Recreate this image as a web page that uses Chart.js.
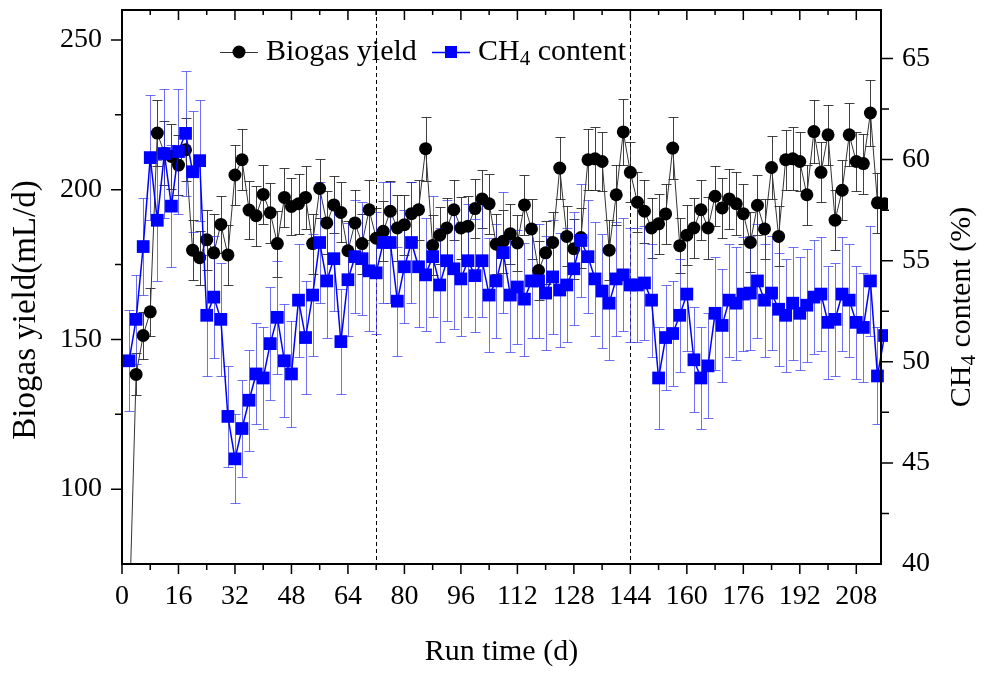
<!DOCTYPE html>
<html>
<head>
<meta charset="utf-8">
<script src="https://cdn.jsdelivr.net/npm/chart.js@4.4.1/dist/chart.umd.min.js"></script>
<style>
  html, body { margin: 0; padding: 0; background: #fff; }
  canvas { display: block; }
</style>
</head>
<body>
<canvas id="myChart" width="988" height="674"></canvas>
<script>
// run days (sampling every 2 d)
const days = [2, 4, 6, 8, 10, 12, 14, 16, 18, 20, 22, 24, 26, 28, 30, 32, 34, 36, 38, 40,
  42, 44, 46, 48, 50, 52, 54, 56, 58, 60, 62, 64, 66, 68, 70, 72, 74, 76, 78, 80,
  82, 84, 86, 88, 90, 92, 94, 96, 98, 100, 102, 104, 106, 108, 110, 112, 114, 116, 118, 120,
  122, 124, 126, 128, 130, 132, 134, 136, 138, 140, 142, 144, 146, 148, 150, 152, 154, 156, 158, 160,
  162, 164, 166, 168, 170, 172, 174, 176, 178, 180, 182, 184, 186, 188, 190, 192, 194, 196, 198, 200,
  202, 204, 206, 208, 210, 212, 214, 216];

// biogas yield, mL/d
const biogas = [55, 138.3, 151.3, 159.2, 218.9, 212.2, 211.1, 208.2, 213.3, 179.8,
  177.3, 183.3, 178.9, 188.4, 178.2, 204.9, 210, 193.2, 191.3, 198.4,
  192.3, 182, 197.4, 194.4, 195.3, 197.4, 182, 200.4, 188.9, 194.9,
  192.4, 179.6, 188.9, 182, 193.3, 183.8, 186.1, 192.8, 187.2, 188.3,
  192, 193.3, 213.7, 181.4, 184.8, 187.2, 193.3, 187.2, 187.8, 193.7,
  196.9, 195.3, 181.8, 182.8, 185.3, 182.2, 194.9, 186.9, 173, 178.9,
  182.4, 207.2, 184.4, 180.3, 184, 210, 210.3, 209.4, 179.8, 198.3,
  219.3, 205.8, 195.8, 192.8, 187.2, 188.6, 191.9, 213.9, 181.3, 184.8,
  187.2, 193.3, 187.2, 197.8, 193.9, 196.9, 195.3, 192, 182.4, 194.8,
  186.9, 207.4, 184.4, 210, 210.3, 209.4, 198.3, 219.4, 205.8, 218.3,
  189.8, 199.8, 218.3, 209.4, 208.7, 225.6, 195.6, 195.3];
const biogasErr = [8, 7, 7.7, 8, 11, 10.6, 10.8, 10, 10.5, 10,
  9, 10, 13, 9.5, 10, 10, 10.2, 9.6, 10, 9.7,
  10, 11, 10, 9.5, 10, 10.5, 10, 10, 10.5, 9.5,
  10, 10, 11, 10, 10, 10, 10, 10, 11, 10,
  10.5, 10, 10.7, 10, 9.5, 10, 10, 10.5, 10, 9.7,
  9.8, 10, 10, 10.5, 10, 9.5, 10, 10, 10, 10.5,
  10, 10.3, 10, 10, 10, 10.2, 10.5, 10, 10, 10,
  11, 10, 10, 10.5, 10, 10, 10, 10.5, 9.1, 10,
  10, 10, 10.5, 10, 10, 10, 10.5, 10, 10, 10,
  10, 10.5, 10, 10, 10.5, 10, 10, 10.5, 10, 10,
  10, 10, 10.5, 10, 10, 11, 10, 10];

// CH4 content, %
const ch4 = [50.05, 52.1, 55.7, 60.1, 57.0, 60.3, 57.7, 60.4, 61.3, 59.4,
  59.95, 52.3, 53.2, 52.1, 47.3, 45.2, 46.7, 48.1, 49.4, 49.2,
  50.9, 52.2, 50.05, 49.4, 53.05, 51.2, 53.3, 55.9, 54.0, 55.1,
  51.0, 54.06, 55.2, 55.1, 54.5, 54.4, 55.9, 55.9, 53.0, 54.7,
  55.9, 54.7, 54.3, 55.2, 53.8, 55.0, 54.6, 54.1, 55.0, 54.26,
  55.0, 53.3, 54.0, 55.4, 53.3, 53.7, 53.1, 54.0, 54.0, 53.4,
  54.2, 53.55, 53.8, 54.6, 56.0, 55.2, 54.1, 53.5, 52.9, 54.1,
  54.3, 53.8, 53.8, 53.9, 53.05, 49.2, 51.2, 51.4, 52.3, 53.35,
  50.1, 49.2, 49.8, 52.4, 51.8, 53.05, 52.9, 53.35, 53.4, 54.0,
  53.05, 53.4, 52.6, 52.3, 52.9, 52.4, 52.8, 53.2, 53.35, 51.95,
  52.1, 53.35, 53.05, 51.95, 51.7, 54.0, 49.3, 51.3];
const ch4Err = [2.5, 2.2, 2.4, 3.1, 3.0, 3.2, 3.0, 3.1, 3.1, 3.0,
  3.0, 3.0, 3.0, 2.8, 2.5, 2.2, 2.4, 2.5, 2.5, 2.5,
  2.8, 2.8, 2.8, 2.6, 2.8, 2.8, 3.0, 3.0, 2.8, 2.6,
  2.6, 2.8, 2.8, 2.8, 3.0, 3.0, 3.0, 3.0, 2.7, 2.8,
  3.0, 3.0, 2.8, 3.0, 2.8, 3.0, 3.0, 2.8, 2.8, 2.8,
  2.8, 2.8, 2.8, 3.0, 2.8, 2.8, 2.8, 2.8, 2.8, 2.8,
  2.8, 2.8, 2.8, 2.8, 2.8, 2.8, 2.8, 2.8, 2.8, 2.8,
  2.8, 2.8, 2.8, 2.8, 2.8, 2.5, 2.6, 2.6, 2.8, 2.8,
  2.6, 2.5, 2.6, 2.8, 2.8, 2.8, 2.8, 2.8, 2.8, 2.8,
  2.8, 2.8, 2.8, 2.8, 2.8, 2.8, 2.8, 2.8, 2.8, 2.8,
  2.8, 2.8, 2.8, 2.8, 2.7, 2.7, 2.4, 2.6];

const xTicks = [0, 16, 32, 48, 64, 80, 96, 112, 128, 144, 160, 176, 192, 208];
const leftTicks = [100, 150, 200, 250];
const rightTicks = [40, 45, 50, 55, 60, 65];
const phaseLines = [72, 144];

const FONT = '"Liberation Serif", "Times New Roman", serif';
const ctx = document.getElementById("myChart").getContext("2d");

const toPoints = (ys) => days.map((d, i) => ({ x: d, y: ys[i] }));

// error bars + phase separators, drawn under the markers
const underlay = {
  id: "underlay",
  beforeDatasetsDraw(chart) {
    const c = chart.ctx;
    const a = chart.chartArea;
    const xs = chart.scales.x;
    c.save();
    c.beginPath();
    c.rect(a.left, a.top, a.right - a.left, a.bottom - a.top);
    c.clip();

    c.strokeStyle = "#000";
    c.lineWidth = 1;
    c.setLineDash([4, 3]);
    phaseLines.forEach((d) => {
      const px = Math.round(xs.getPixelForValue(d)) + 0.5;
      c.beginPath();
      c.moveTo(px, a.top);
      c.lineTo(px, a.bottom);
      c.stroke();
    });
    c.setLineDash([]);

    chart.data.datasets.slice().reverse().forEach((ds) => {
      const ys = chart.scales[ds.yAxisID];
      c.strokeStyle = ds.errorColor;
      c.lineWidth = 1;
      ds.data.forEach((p, i) => {
        const px = Math.round(xs.getPixelForValue(p.x)) + 0.5;
        const top = Math.round(ys.getPixelForValue(p.y + ds.errors[i])) + 0.5;
        const bot = Math.round(ys.getPixelForValue(p.y - ds.errors[i])) + 0.5;
        c.beginPath();
        c.moveTo(px, top);
        c.lineTo(px, bot);
        c.moveTo(px - 5, top);
        c.lineTo(px + 5, top);
        c.moveTo(px - 5, bot);
        c.lineTo(px + 5, bot);
        c.stroke();
      });
    });
    c.restore();
  },
};

// frame, tick marks, titles, legend
const overlay = {
  id: "overlay",
  afterDraw(chart) {
    const c = chart.ctx;
    const a = chart.chartArea;
    const xs = chart.scales.x;
    const yl = chart.scales.y;
    const yr = chart.scales.y2;
    c.save();
    c.strokeStyle = "#000";
    c.lineWidth = 2;
    c.strokeRect(a.left, a.top, a.right - a.left, a.bottom - a.top);

    c.lineWidth = 1.5;
    c.beginPath();
    for (let v = 0; v <= 208; v += 8) {
      const px = xs.getPixelForValue(v);
      const major = v % 16 === 0;
      c.moveTo(px, a.bottom);
      c.lineTo(px, a.bottom + (major ? 10 : 6));
      c.moveTo(px, a.top);
      c.lineTo(px, a.top + (major ? 10 : 5));
    }
    for (let v = 100; v <= 250; v += 25) {
      const py = yl.getPixelForValue(v);
      c.moveTo(a.left, py);
      c.lineTo(a.left - (v % 50 === 0 ? 11 : 7), py);
    }
    for (let v = 42.5; v <= 65; v += 2.5) {
      const py = yr.getPixelForValue(v);
      c.moveTo(a.right, py);
      c.lineTo(a.right + (v % 5 === 0 ? 12 : 8), py);
    }
    c.stroke();

    c.fillStyle = "#000";
    c.textBaseline = "middle";
    c.textAlign = "center";
    c.font = "30px " + FONT;
    c.fillText("Run time (d)", (a.left + a.right) / 2, 652);

    c.save();
    c.translate(26, 310);
    c.rotate(-Math.PI / 2);
    c.font = "33px " + FONT;
    c.fillText("Biogas yield(mL/d)", 0, 0);
    c.restore();

    const drawCH4 = (x, y, tail, size) => {
      c.textAlign = "left";
      c.font = size + "px " + FONT;
      c.fillText("CH", x, y);
      let w = c.measureText("CH").width;
      c.font = Math.round(size * 0.7) + "px " + FONT;
      c.fillText("4", x + w, y + size * 0.25);
      w += c.measureText("4").width;
      c.font = size + "px " + FONT;
      c.fillText(tail, x + w, y);
      return w + c.measureText(tail).width;
    };

    c.save();
    c.translate(962, 307);
    c.rotate(-Math.PI / 2);
    c.font = "30px " + FONT;
    const full = c.measureText("CH content (%)").width + c.measureText("4").width * 0.7;
    drawCH4(-full / 2, 0, " content (%)", 30);
    c.restore();

    // legend
    const ly = 52;
    c.lineWidth = 1;
    c.strokeStyle = "#333";
    c.beginPath();
    c.moveTo(220, ly + 0.5);
    c.lineTo(258, ly + 0.5);
    c.stroke();
    c.beginPath();
    c.arc(239, ly, 6.5, 0, Math.PI * 2);
    c.fillStyle = "#000";
    c.fill();
    c.textAlign = "left";
    c.font = "30px " + FONT;
    c.fillText("Biogas yield", 266, ly);

    c.strokeStyle = "#0000ff";
    c.lineWidth = 1.5;
    c.beginPath();
    c.moveTo(432, ly + 0.5);
    c.lineTo(470, ly + 0.5);
    c.stroke();
    c.fillStyle = "#0000ff";
    c.fillRect(445, ly - 6, 12, 12);
    c.fillStyle = "#000";
    drawCH4(478, ly, " content", 30);
    c.restore();
  },
};

const tickFont = { family: FONT, size: 28 };
const noPadY = (w) => (s) => { s.width = w; s.paddingTop = 0; s.paddingBottom = 0; };

new Chart(ctx, {
  type: "line",
  data: {
    datasets: [
      {
        label: "CH4 content",
        data: toPoints(ch4),
        errors: ch4Err,
        errorColor: "rgba(50, 50, 235, 0.7)",
        yAxisID: "y2",
        borderColor: "#0000ff",
        borderWidth: 1.5,
        pointStyle: "rect",
        pointRadius: 9,
        pointBackgroundColor: "#0000ff",
        pointBorderColor: "#0000ff",
        pointBorderWidth: 0,
        tension: 0,
        clip: { left: 0, top: 0, right: 7, bottom: 0 },
      },
      {
        label: "Biogas yield",
        data: toPoints(biogas),
        errors: biogasErr,
        errorColor: "rgba(30, 30, 30, 0.85)",
        yAxisID: "y",
        borderColor: "#333",
        borderWidth: 1,
        pointStyle: "circle",
        pointRadius: 6.5,
        pointBackgroundColor: "#000",
        pointBorderColor: "#000",
        pointBorderWidth: 0,
        tension: 0,
        clip: { left: 0, top: 0, right: 7, bottom: 0 },
      },
    ],
  },
  options: {
    responsive: false,
    animation: false,
    layout: { padding: { top: 10, left: 0, right: 0, bottom: 0 } },
    plugins: { legend: { display: false }, tooltip: { enabled: false } },
    scales: {
      x: {
        type: "linear",
        min: 0,
        max: 215,
        grid: { display: false, drawTicks: false },
        border: { display: false },
        afterBuildTicks: (s) => { s.ticks = xTicks.map((v) => ({ value: v })); },
        afterFit: (s) => { s.height = 110; s.paddingLeft = 0; s.paddingRight = 0; },
        ticks: { font: tickFont, color: "#000", padding: 16, autoSkip: false, maxRotation: 0 },
      },
      y: {
        position: "left",
        min: 75,
        max: 260,
        grid: { display: false, drawTicks: false },
        border: { display: false },
        afterBuildTicks: (s) => { s.ticks = leftTicks.map((v) => ({ value: v })); },
        afterFit: noPadY(122),
        ticks: { font: tickFont, color: "#000", padding: 20 },
      },
      y2: {
        position: "right",
        min: 40,
        max: 67.4,
        grid: { display: false, drawTicks: false },
        border: { display: false },
        afterBuildTicks: (s) => { s.ticks = rightTicks.map((v) => ({ value: v })); },
        afterFit: noPadY(107),
        ticks: { font: tickFont, color: "#000", padding: 21 },
      },
    },
  },
  plugins: [underlay, overlay],
});
</script>
</body>
</html>
